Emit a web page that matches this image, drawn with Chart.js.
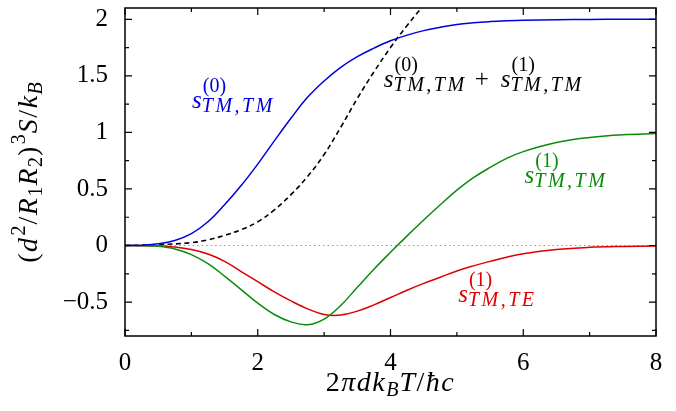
<!DOCTYPE html>
<html>
<head>
<meta charset="utf-8">
<script src="https://cdn.jsdelivr.net/npm/chart.js@4.4.1/dist/chart.umd.min.js"></script>
<style>html,body{margin:0;padding:0;background:#fff}canvas{display:block}</style>
</head>
<body>
<canvas id="c" width="676" height="411"></canvas>
<script>
// sample points along 2*pi*d*kB*T/(hbar c)
let xs = [0, 0.25, 0.5, 0.75, 1, 1.25, 1.5, 1.75, 2, 2.25, 2.5, 2.75, 3, 3.25, 3.5, 3.75, 4, 4.25, 4.5, 4.75, 5, 5.25, 5.5, 5.75, 6, 6.5, 7, 7.5, 8];
let s0TMTM = [0, 0.003, 0.015, 0.045, 0.105, 0.21, 0.36, 0.53, 0.72, 0.925, 1.125, 1.31, 1.455, 1.575, 1.67, 1.745, 1.81, 1.86, 1.90, 1.93, 1.955, 1.97, 1.98, 1.987, 1.992, 1.997, 1.999, 2.0, 2.0];
let s1TMTM = [0, -0.001, -0.007, -0.03, -0.08, -0.16, -0.27, -0.39, -0.51, -0.61, -0.675, -0.70, -0.65, -0.53, -0.37, -0.21, -0.06, 0.085, 0.225, 0.36, 0.49, 0.60, 0.69, 0.77, 0.83, 0.91, 0.955, 0.98, 0.99];
let s1TMTE = [0, -0.001, -0.004, -0.013, -0.035, -0.075, -0.14, -0.23, -0.32, -0.41, -0.49, -0.56, -0.61, -0.615, -0.58, -0.525, -0.46, -0.395, -0.335, -0.28, -0.225, -0.18, -0.14, -0.103, -0.072, -0.035, -0.016, -0.008, -0.004];
// sum curve, only drawn until it leaves the top of the frame
let xsSum = [0, 0.5, 1, 1.25, 1.5, 1.75, 2, 2.25, 2.5, 2.75, 3, 3.25, 3.5, 3.75, 4, 4.25, 4.5];
let sumTMTM = [0, 0.008, 0.025, 0.05, 0.09, 0.14, 0.21, 0.315, 0.45, 0.61, 0.805, 1.045, 1.30, 1.535, 1.75, 1.945, 2.125];
let xsZero = [0, 8];
let zeroLine = [0, 0];

let xTickLabels = [0, 2, 4, 6, 8];
let yTickLabels = [-0.5, 0, 0.5, 1, 1.5, 2];
let xMinorTicks = [1, 3, 5, 7];
let yMinorTicks = [-0.75, -0.25, 0.25, 0.75, 1.25, 1.75];

let BLUE = '#0000dd', GREEN = '#0a8c0a', RED = '#dd0000';
let SERIF = '"Liberation Serif", "DejaVu Serif", serif';

let pts = (xv, yv) => xv.map((x, i) => ({x: x, y: yv[i]}));

// draws a little math string: {t, r} main text, {sup, sub} stacked scripts
function mathRuns(ctx, x, y, items, st, dry) {
  let x0 = x;
  ctx.textBaseline = 'alphabetic';
  ctx.textAlign = 'left';
  let put = (txt, font, sp, px, py) => {
    ctx.font = font;
    ctx.letterSpacing = sp + 'px';
    if (!dry) ctx.fillText(txt, px, py);
    return ctx.measureText(txt).width;
  };
  for (let it of items) {
    if (it.gap) { x += it.gap; continue; }
    if (it.sup !== undefined || it.sub !== undefined) {
      let w = 0;
      if (it.sup) w = put(it.sup, st.scr + 'px ' + SERIF, st.supSp, x + 1, y - st.up) + 1;
      if (it.sub) w = Math.max(w, put(it.sub, (it.subR ? '' : 'italic ') + st.scr + 'px ' + SERIF, it.subR ? st.supSp : st.subSp, x, y + st.down));
      x += w;
    } else {
      x += put(it.t, (it.r ? '' : 'italic ') + st.main + 'px ' + SERIF, st.mainSp, x, y);
    }
  }
  ctx.letterSpacing = '0px';
  return x - x0;
}

let labelStyle = {main: 25, scr: 20, mainSp: 0, supSp: 0, subSp: 2.5, up: 16, down: 4};
let titleStyle = {main: 28, scr: 20, mainSp: 1.5, supSp: 1, subSp: 1, up: 12, down: 5};

let curveLabels = [
  {x: 1.01, y: 1.214, color: BLUE, items: [{t: 's'}, {sup: '(0)', sub: 'TM,TM'}]},
  {x: 3.90, y: 1.40, color: '#000', items: [{t: 's'}, {sup: '(0)', sub: 'TM,TM'}, {gap: 8}, {t: '+', r: true}, {gap: 12}, {t: 's'}, {sup: '(1)', sub: 'TM,TM'}]},
  {x: 6.02, y: 0.557, color: GREEN, items: [{t: 's'}, {sup: '(1)', sub: 'TM,TM'}]},
  {x: 5.02, y: -0.495, color: RED, items: [{t: 's'}, {sup: '(1)', sub: 'TM,TE'}]}
];

let xTitle = [{t: '2', r: true}, {t: 'πdk'}, {sub: 'B'}, {t: 'T'}, {t: '/', r: true}, {t: 'ħc'}];
let yTitle = [{t: '(', r: true}, {t: 'd'}, {sup: '2'}, {t: '/', r: true}, {t: 'R'}, {sub: '1', subR: true}, {t: 'R'}, {sub: '2', subR: true}, {t: ')', r: true}, {sup: '3'}, {t: 'S'}, {t: '/', r: true}, {t: 'k'}, {sub: 'B'}];

let frame = {
  id: 'frame',
  afterDatasetsDraw(chart) {
    let ctx = chart.ctx, a = chart.chartArea, sx = chart.scales.x, sy = chart.scales.y;
    ctx.save();
    ctx.strokeStyle = '#000';
    ctx.lineWidth = 1.2;
    ctx.beginPath();
    let tick = (px, py, dx, dy) => { ctx.moveTo(px, py); ctx.lineTo(px + dx, py + dy); };
    xTickLabels.forEach(v => { let p = sx.getPixelForValue(v); tick(p, a.bottom, 0, -7); tick(p, a.top, 0, 7); });
    xMinorTicks.forEach(v => { let p = sx.getPixelForValue(v); tick(p, a.bottom, 0, -4); tick(p, a.top, 0, 4); });
    yTickLabels.forEach(v => { let p = sy.getPixelForValue(v); tick(a.left, p, 7, 0); tick(a.right, p, -7, 0); });
    yMinorTicks.forEach(v => { let p = sy.getPixelForValue(v); tick(a.left, p, 4, 0); tick(a.right, p, -4, 0); });
    ctx.stroke();
    ctx.lineWidth = 1.5;
    ctx.strokeRect(a.left, a.top, a.width, a.height);

    curveLabels.forEach(l => {
      ctx.fillStyle = l.color;
      mathRuns(ctx, sx.getPixelForValue(l.x), sy.getPixelForValue(l.y), l.items, labelStyle);
    });

    ctx.fillStyle = '#000';
    let w = mathRuns(ctx, 0, 0, xTitle, titleStyle, true);
    mathRuns(ctx, (a.left + a.right) / 2 - w / 2, 391, xTitle, titleStyle);

    w = mathRuns(ctx, 0, 0, yTitle, titleStyle, true);
    ctx.translate(37, (a.top + a.bottom) / 2);
    ctx.rotate(-Math.PI / 2);
    mathRuns(ctx, -w / 2, 0, yTitle, titleStyle);
    ctx.restore();
  }
};

let tickFont = {family: SERIF, size: 25};
let fmt = v => (v < 0 ? '\u2212' + String(-v) : String(v));

new Chart(document.getElementById('c'), {
  type: 'line',
  data: {
    datasets: [
      {data: pts(xs, s0TMTM), borderColor: BLUE, order: 1},
      {data: pts(xs, s1TMTM), borderColor: GREEN, order: 2},
      {data: pts(xs, s1TMTE), borderColor: RED, order: 3},
      {data: pts(xsSum, sumTMTM), borderColor: '#000', borderDash: [5, 3.5], borderWidth: 1.6, order: 4},
      {data: pts(xsZero, zeroLine), borderColor: '#999', borderDash: [1.5, 3], borderWidth: 1.2, order: 10}
    ]
  },
  options: {
    responsive: false,
    animation: false,
    elements: {
      point: {radius: 0},
      line: {borderWidth: 1.5, tension: 0.4, fill: false}
    },
    plugins: {legend: {display: false}, tooltip: {enabled: false}},
    layout: {padding: {top: 8, right: 20, left: 0, bottom: 0}},
    scales: {
      x: {
        type: 'linear', min: 0, max: 8,
        grid: {display: false, drawTicks: false},
        border: {display: false},
        ticks: {font: tickFont, color: '#000', padding: 12, callback: fmt, maxRotation: 0},
        afterBuildTicks: s => { s.ticks = xTickLabels.map(v => ({value: v})); },
        afterFit: s => { s.height = 75; s.paddingLeft = 0; s.paddingRight = 0; }
      },
      y: {
        type: 'linear', min: -0.8, max: 2.1,
        grid: {display: false, drawTicks: false},
        border: {display: false},
        ticks: {font: tickFont, color: '#000', padding: 17, callback: fmt},
        afterBuildTicks: s => { s.ticks = yTickLabels.map(v => ({value: v})); },
        afterFit: s => { s.width = 125; s.paddingTop = 0; s.paddingBottom = 0; }
      }
    }
  },
  plugins: [frame]
});
</script>
</body>
</html>
